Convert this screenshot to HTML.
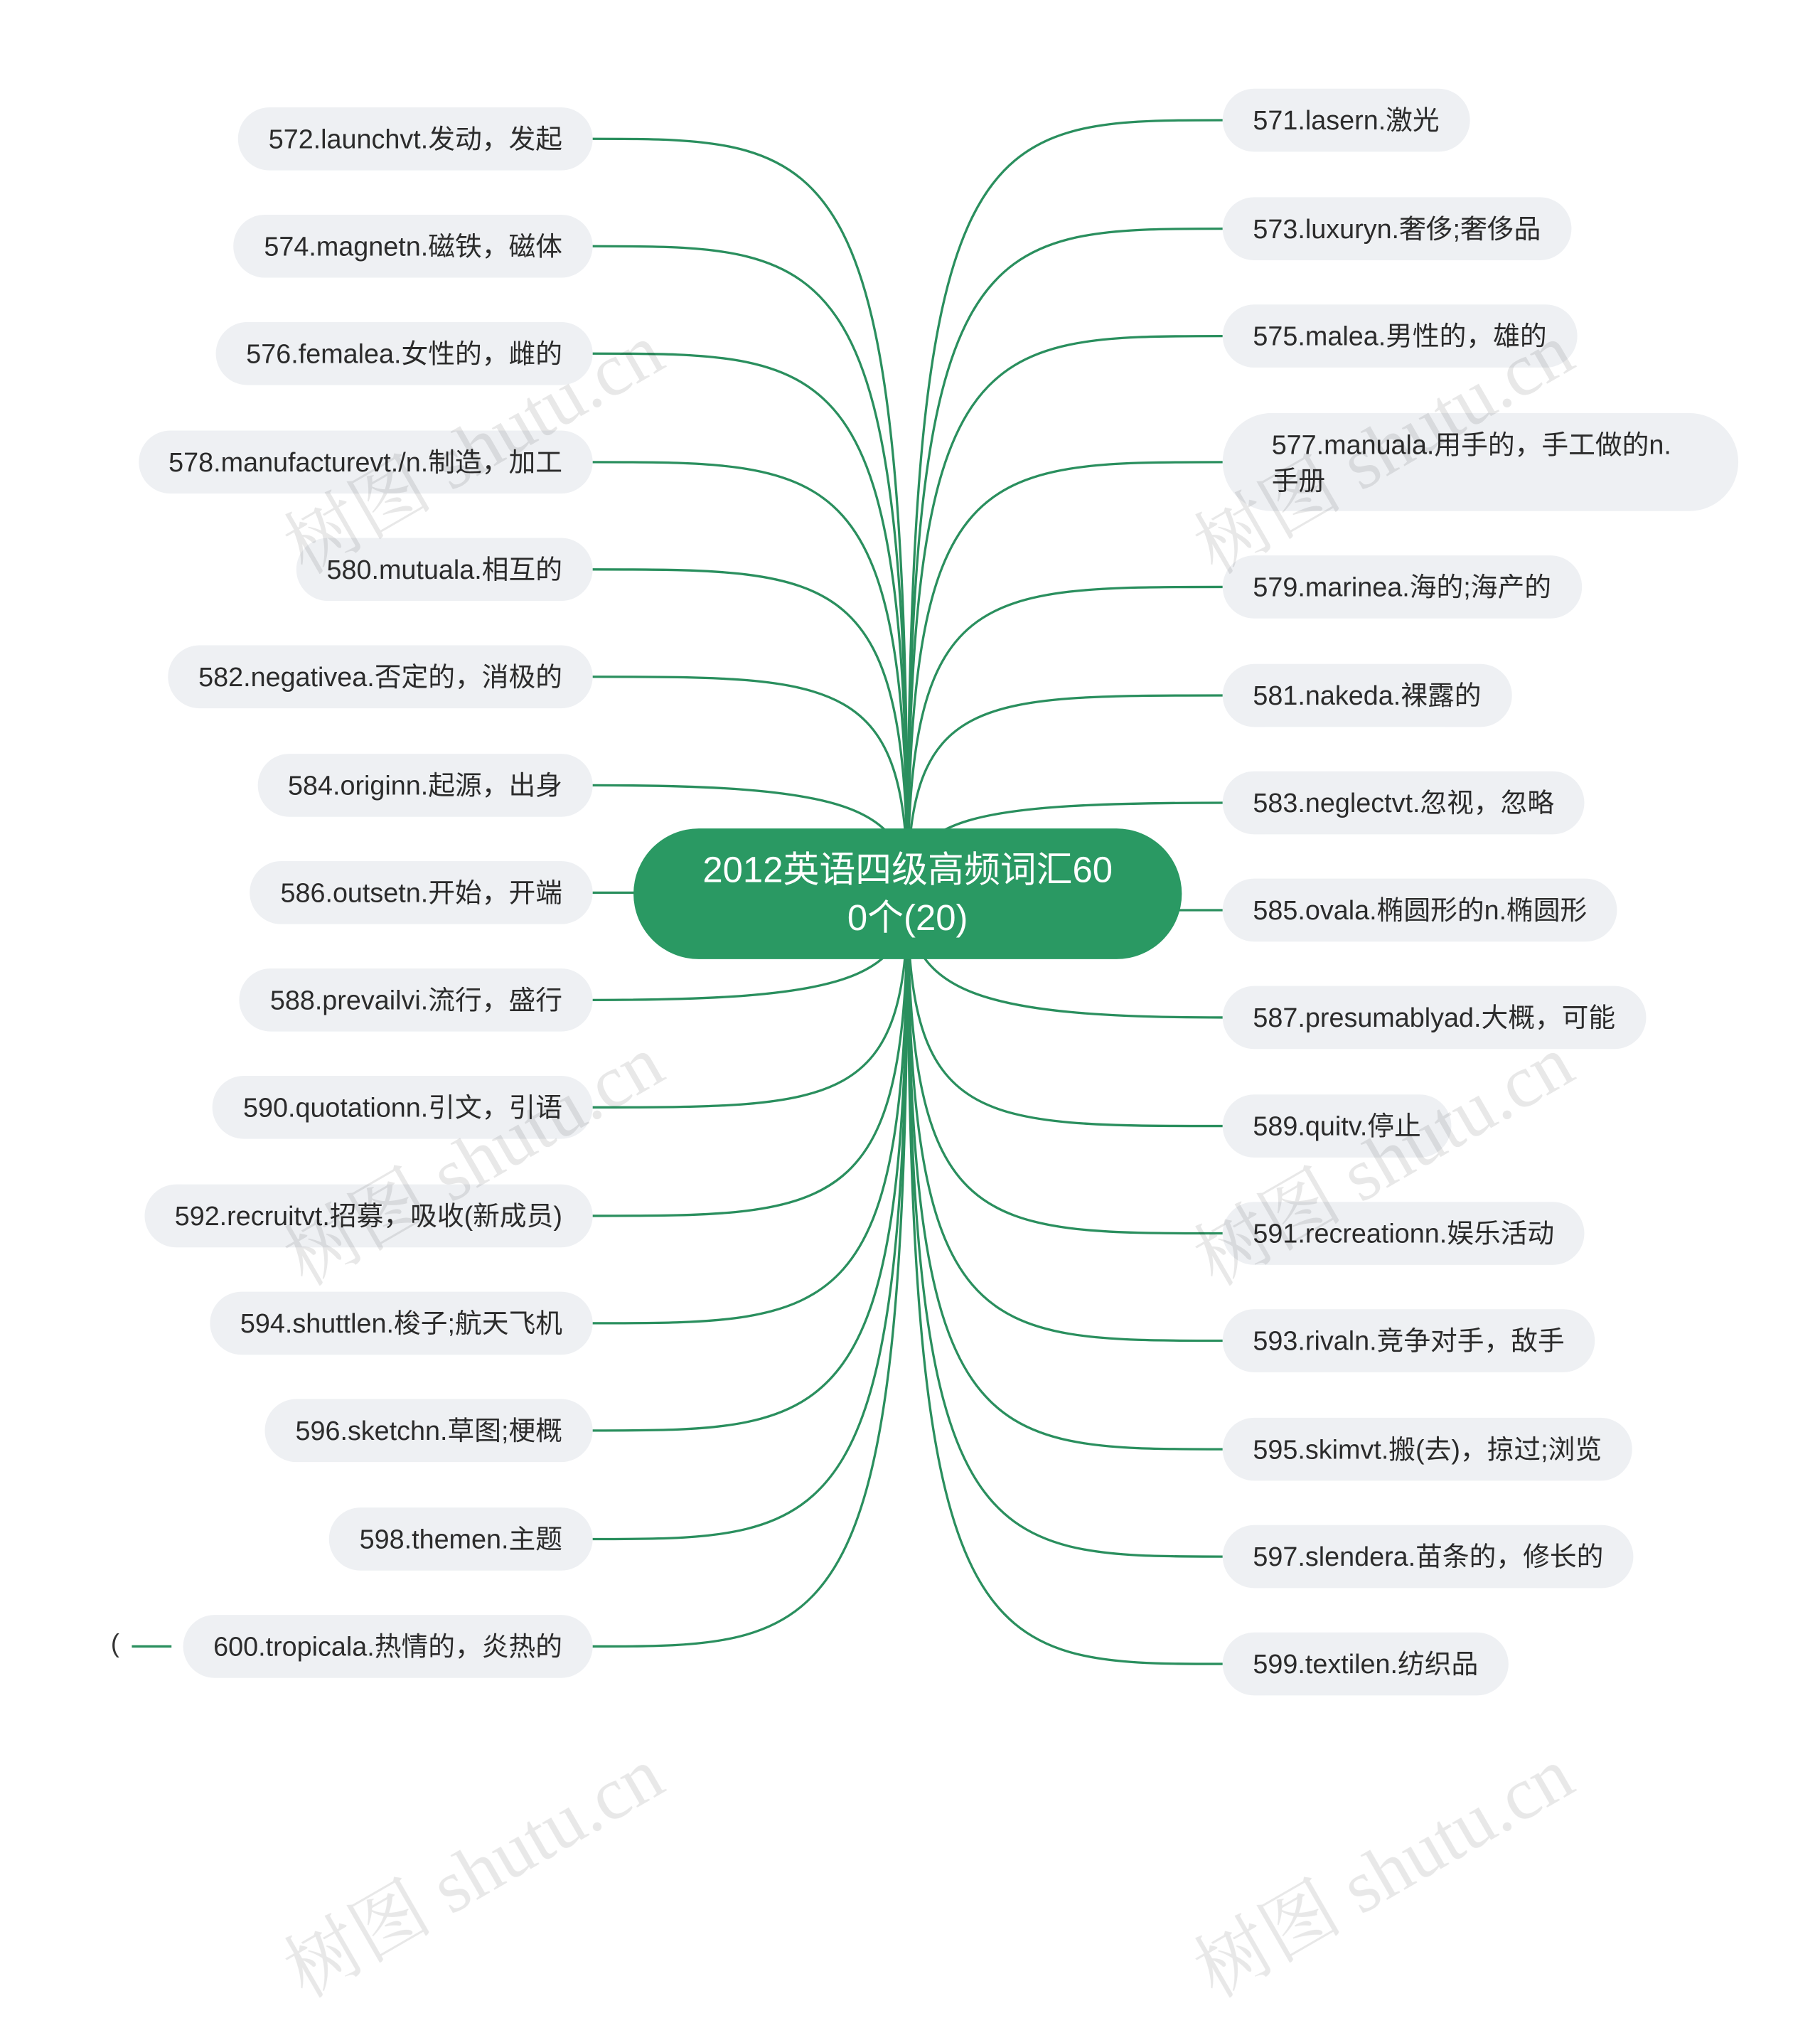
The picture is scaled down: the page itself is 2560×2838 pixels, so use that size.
<!DOCTYPE html>
<html><head><meta charset="utf-8"><style>
html,body{margin:0;padding:0;background:#fff;}
body{width:2560px;height:2499px;overflow:hidden;position:relative;}
#w{position:absolute;left:0;top:0;width:1560px;height:1523px;transform:scale(1.641);transform-origin:0 0;font-family:"Liberation Sans","Noto Sans CJK SC",sans-serif;}
.n{position:absolute;height:54px;line-height:54px;background:#eef0f3;border-radius:27px;padding:0 26px;font-size:23px;color:#2b2b2b;white-space:nowrap;}
.l{right:1052px;}
.r{left:1048px;}
.c{position:absolute;left:543px;top:710px;width:470px;height:112px;background:#2a9963;border-radius:56px;color:#fff;font-size:31px;text-align:center;line-height:41px;display:flex;align-items:center;justify-content:center;}
.wm{position:absolute;font-family:"Liberation Serif","Noto Serif CJK SC",serif;font-size:64px;color:rgba(0,0,0,0.09);transform:rotate(-30deg);transform-origin:0 0;white-space:nowrap;}
svg{position:absolute;left:0;top:0;}
</style></head><body><div id="w">
<svg width="1560" height="1523" fill="none" stroke="#2a8f5e" stroke-width="2">
<g>
<path d="M508,119 C720,119 778,119 778,766"/>
<path d="M508,211 C720,211 778,211 778,766"/>
<path d="M508,303 C720,303 778,303 778,766"/>
<path d="M508,396 C720,396 778,396 778,766"/>
<path d="M508,488 C720,488 778,488 778,766"/>
<path d="M508,580 C720,580 778,580 778,766"/>
<path d="M508,673 C720,673 778,690 778,766"/>
<path d="M508,765 L560,765"/>
<path d="M508,857 C720,857 778,840 778,766"/>
<path d="M508,949 C720,949 778,949 778,766"/>
<path d="M508,1042 C720,1042 778,1042 778,766"/>
<path d="M508,1134 C720,1134 778,1134 778,766"/>
<path d="M508,1226 C720,1226 778,1226 778,766"/>
<path d="M508,1319 C720,1319 778,1319 778,766"/>
<path d="M508,1411 C720,1411 778,1411 778,766"/>
<path d="M113,1411 L147,1411"/>
</g>
<g>
<path d="M1048,103 C836,103 778,103 778,766"/>
<path d="M1048,196 C836,196 778,196 778,766"/>
<path d="M1048,288 C836,288 778,288 778,766"/>
<path d="M1048,396 C836,396 778,396 778,766"/>
<path d="M1048,503 C836,503 778,503 778,766"/>
<path d="M1048,596 C836,596 778,596 778,766"/>
<path d="M1048,688 C836,688 778,700 778,766"/>
<path d="M1048,780 L1000,780"/>
<path d="M1048,872 C836,872 778,850 778,766"/>
<path d="M1048,965 C836,965 778,965 778,766"/>
<path d="M1048,1057 C836,1057 778,1057 778,766"/>
<path d="M1048,1149 C836,1149 778,1149 778,766"/>
<path d="M1048,1242 C836,1242 778,1242 778,766"/>
<path d="M1048,1334 C836,1334 778,1334 778,766"/>
<path d="M1048,1426 C836,1426 778,1426 778,766"/>
</g>
</svg>
<div style="position:absolute;left:95px;top:1396px;font-size:22px;color:#333;">(</div>
<div class="c">2012英语四级高频词汇60<br>0个(20)</div>

<div class="n l" style="top:92px">572.launchvt.发动，发起</div>
<div class="n l" style="top:184px">574.magnetn.磁铁，磁体</div>
<div class="n l" style="top:276px">576.femalea.女性的，雌的</div>
<div class="n l" style="top:369px">578.manufacturevt./n.制造，加工</div>
<div class="n l" style="top:461px">580.mutuala.相互的</div>
<div class="n l" style="top:553px">582.negativea.否定的，消极的</div>
<div class="n l" style="top:646px">584.originn.起源，出身</div>
<div class="n l" style="top:738px">586.outsetn.开始，开端</div>
<div class="n l" style="top:830px">588.prevailvi.流行，盛行</div>
<div class="n l" style="top:922px">590.quotationn.引文，引语</div>
<div class="n l" style="top:1015px">592.recruitvt.招募，吸收(新成员)</div>
<div class="n l" style="top:1107px">594.shuttlen.梭子;航天飞机</div>
<div class="n l" style="top:1199px">596.sketchn.草图;梗概</div>
<div class="n l" style="top:1292px">598.themen.主题</div>
<div class="n l" style="top:1384px">600.tropicala.热情的，炎热的</div>

<div class="n r" style="top:76px">571.lasern.激光</div>
<div class="n r" style="top:169px">573.luxuryn.奢侈;奢侈品</div>
<div class="n r" style="top:261px">575.malea.男性的，雄的</div>
<div class="n r" style="top:354px;height:84px;line-height:31px;border-radius:42px;padding:12px 40px 0 42px;box-sizing:border-box;width:442px;">577.manuala.用手的，手工做的n.<br>手册</div>
<div class="n r" style="top:476px">579.marinea.海的;海产的</div>
<div class="n r" style="top:569px">581.nakeda.裸露的</div>
<div class="n r" style="top:661px">583.neglectvt.忽视，忽略</div>
<div class="n r" style="top:753px">585.ovala.椭圆形的n.椭圆形</div>
<div class="n r" style="top:845px">587.presumablyad.大概，可能</div>
<div class="n r" style="top:938px">589.quitv.停止</div>
<div class="n r" style="top:1030px">591.recreationn.娱乐活动</div>
<div class="n r" style="top:1122px">593.rivaln.竞争对手，敌手</div>
<div class="n r" style="top:1215px">595.skimvt.搬(去)，掠过;浏览</div>
<div class="n r" style="top:1307px">597.slendera.苗条的，修长的</div>
<div class="n r" style="top:1399px">599.textilen.纺织品</div>

<div class="wm" style="left:225px;top:430px">树图 shutu.cn</div>
<div class="wm" style="left:1005px;top:430px">树图 shutu.cn</div>
<div class="wm" style="left:225px;top:1040px">树图 shutu.cn</div>
<div class="wm" style="left:1005px;top:1040px">树图 shutu.cn</div>
<div class="wm" style="left:225px;top:1650px">树图 shutu.cn</div>
<div class="wm" style="left:1005px;top:1650px">树图 shutu.cn</div>
</div></body></html>
